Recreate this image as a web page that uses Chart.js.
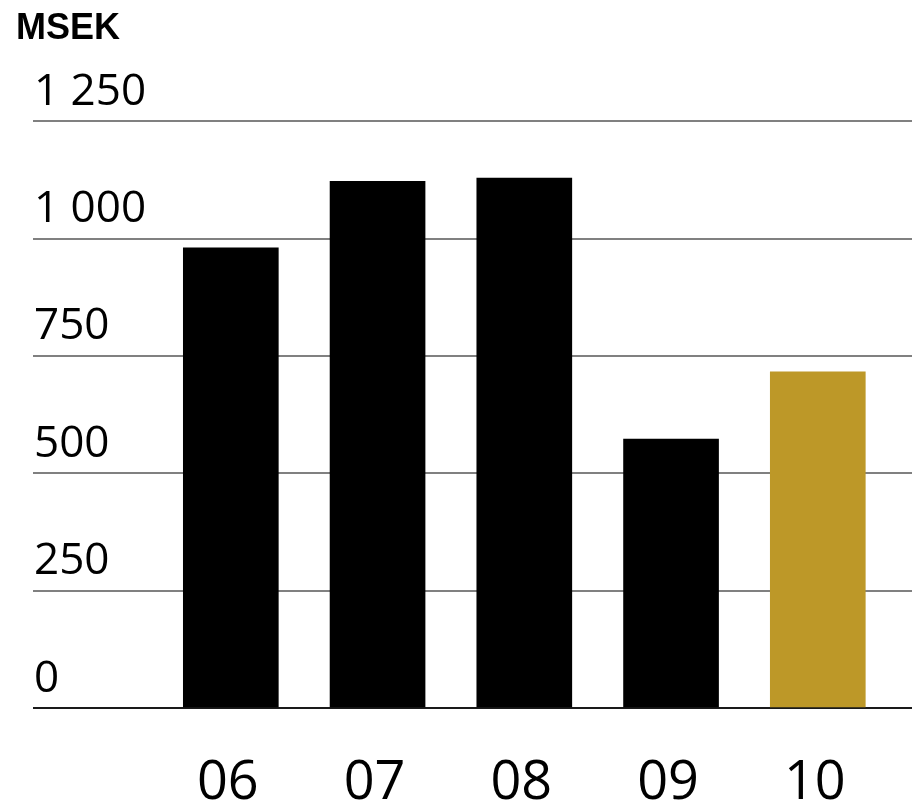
<!DOCTYPE html>
<html>
<head>
<meta charset="utf-8">
<script src="https://cdn.jsdelivr.net/npm/chart.js@4"></script>
<style>
  html,body{margin:0;padding:0;background:#fff;}
  #c{display:block;}
</style>
</head>
<body>
<canvas id="c" width="912" height="806"></canvas>
<script>
// MSEK per year, last year highlighted
const years=['06','07','08','09','10'];
const values=[980,1122,1129,573,716];
const yTicks=[0,250,500,750,1000,1250];
const unit='MSEK';

(function(){
  const black='#000000', gold='#bd9828';
  const fmt=v=>String(v).replace(/\B(?=(\d{3})+(?!\d))/g,' ');
  // x range chosen so bars sit where the reference has them
  const xMin=-1.348, xMax=4.642;
  new Chart(document.getElementById('c'),{
    type:'bar',
    data:{datasets:[{
      data:values.map((v,i)=>({x:i,y:v})),
      backgroundColor:values.map((v,i)=>i===values.length-1?gold:black),
      borderWidth:0,
      barThickness:95
    }]},
    options:{
      responsive:false,animation:false,
      layout:{padding:{left:16,right:0,top:7,bottom:0}},
      plugins:{
        legend:{display:false},tooltip:{enabled:false},
        title:{display:true,text:unit,align:'start',color:'#000',
          font:{family:'"Liberation Sans", Arial, sans-serif',size:36,weight:'bold',lineHeight:1.2},
          padding:{top:0,bottom:71}}
      },
      scales:{
        x:{type:'linear',min:xMin,max:xMax,offset:false,
          grid:{display:false},border:{display:false},
          afterBuildTicks:s=>{s.ticks=years.map((_,i)=>({value:i}));},
          afterFit:s=>{s.height=98;},
          ticks:{padding:35,labelOffset:-3,color:'#000',
            font:{family:'"Open Sans", sans-serif',size:54},
            callback:v=>years[v]}
        },
        y:{min:yTicks[0],max:yTicks[yTicks.length-1],
          afterBuildTicks:s=>{s.ticks=yTicks.map(v=>({value:v}));},
          afterFit:s=>{s.width=17;},
          border:{display:false},
          grid:{drawTicks:false,lineWidth:2,color:c=>c.tick&&c.tick.value===0?'#1a1a1a':'#808080'},
          ticks:{mirror:true,padding:1,labelOffset:-29,color:'#000',
            font:{family:'"Open Sans", sans-serif',size:44},
            callback:v=>fmt(v)}
        }
      }
    }
  });
})();
</script>
</body>
</html>
